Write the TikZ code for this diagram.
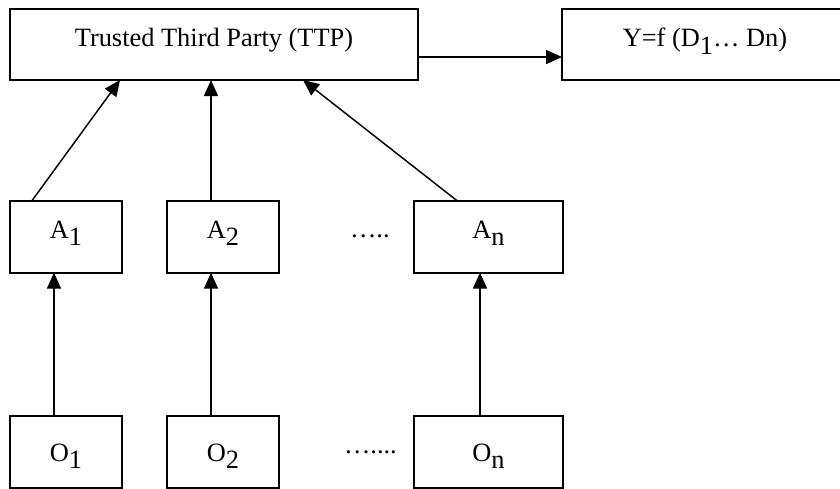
\documentclass[tikz,border=0pt]{standalone}
\usepackage{fontspec}
\setmainfont{Liberation Serif}
\usetikzlibrary{positioning,arrows.meta}
\newcommand{\lowr}[1]{\raisebox{-5.6pt}{#1}}
\tikzset{
  box/.style   ={draw, rectangle, line width=1.5pt, align=center, minimum width=84pt, minimum height=54pt, inner sep=0pt, outer sep=0pt, text depth=0pt, text height=2.4pt},
  wide/.style  ={box, minimum width=111.75pt},
  top/.style   ={box, minimum height=53.25pt},
  dots/.style  ={inner sep=0pt, outer sep=0pt},
  arr/.style   ={-{Triangle[length=12pt, width=10.5pt]}, line width=1.1pt},
}

\begin{document}
\begin{tikzpicture}[font=\fontsize{19.8pt}{24pt}\selectfont]
  \useasboundingbox (0,0) rectangle (630pt,-366.75pt);

  \node[top, anchor=north west, minimum width=306pt, text height=2.25pt] (ttp) at (7.5pt,-6.75pt) {Trusted Third Party (TTP)};
  \node[top, right=108pt of ttp, minimum width=214.5pt, text height=3.3pt] (yout) {Y=f (D\lowr{1}… Dn)};

  % agents
  \node[box, below=90.5pt of ttp.south west, anchor=north west] (a1) {A\lowr{1}};
  \node[box, right=33.75pt of a1] (a2) {A\lowr{2}};
  \node[wide, right=101.25pt of a2] (an) {A\lowr{n}};
  \node[dots, right=53.25pt of a2] (dotsa) {…..};

  % owners
  \node[box, below=107.5pt of a1, text height=13.5pt] (o1) {O\lowr{1}};
  \node[box, below=107.5pt of a2, text height=13.5pt] (o2) {O\lowr{2}};
  \node[wide, below=107.5pt of an, text height=13.5pt] (on) {O\lowr{n}};
  \node[dots, right=48.75pt of o2] (dotso) {…....};

  \draw[arr] ([yshift=-9.4pt]ttp.east) -- ([yshift=-9.4pt]yout.west);

  \draw[arr] ([xshift=16.5pt]a1.north west) -- ([xshift=82.5pt]ttp.south west);
  \draw[arr] ([xshift=33pt]a2.north west) -- ([xshift=150.75pt]ttp.south west);
  \draw[arr] ([xshift=32.25pt]an.north west) -- ([xshift=219.75pt]ttp.south west);

  \draw[arr] ([xshift=33pt]o1.north west) -- ([xshift=33pt]a1.south west);
  \draw[arr] ([xshift=33pt]o2.north west) -- ([xshift=33pt]a2.south west);
  \draw[arr] ([xshift=49.5pt]on.north west) -- ([xshift=49.5pt]an.south west);
\end{tikzpicture}
\end{document}
